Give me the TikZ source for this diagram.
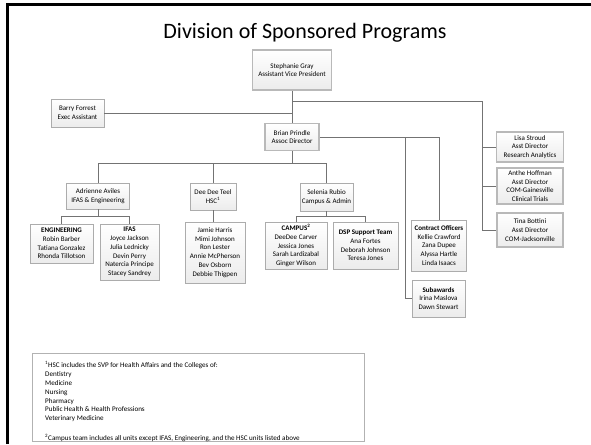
\documentclass[tikz,border=0pt]{standalone}
\usepackage{fontspec}
\setmainfont{Carlito}

\tikzset{
  box/.style={draw=gray!65, line width=0.8pt, top color=white, bottom color=gray!15,
    align=center, inner sep=1pt, font=\fontsize{7}{8.8}\selectfont},
  headbox/.style={box, line width=1.5pt, draw=gray!55},
  link/.style={draw=gray!90!black, line width=0.8pt},
  note/.style={anchor=north west, align=left, inner sep=0pt, font=\fontsize{7.1}{8.9}\selectfont}
}

\begin{document}
\begin{tikzpicture}[x=1pt,y=-1pt]
            \useasboundingbox (0,0) rectangle (591,444);
            \draw[line width=2.5pt] (7.5,444) -- (7.5,4.5) -- (591,4.5);

            \node (T) at (305,33) {\fontsize{22}{26}\selectfont Division of Sponsored Programs};

            \node[headbox, minimum width=79pt, minimum height=40pt] (SG) at (292,70) {Stephanie Gray\\Assistant Vice President};
            \node[box, minimum width=53pt, minimum height=28pt] (BF) at (77.5,113) {Barry Forrest\\Exec Assistant};
            \node[headbox, minimum width=54pt, minimum height=27pt] (BP) at (292,137) {Brian Prindle\\Assoc Director};

            \node[headbox, minimum width=67pt, minimum height=30pt] (LS) at (530,147) {Lisa Stroud\\Asst Director\\Research Analytics};
            \node[headbox, minimum width=66pt, minimum height=36pt] (AH) at (530,186) {Anthe Hoffman\\Asst Director\\COM-Gainesville\\Clinical Trials};
            \node[headbox, minimum width=66pt, minimum height=34pt] (TB) at (530,230) {Tina Bottini\\Asst Director\\COM-Jacksonville};

            \node[box, minimum width=63pt, minimum height=26pt] (AA) at (98,196) {Adrienne Aviles\\IFAS \& Engineering};
            \node[box, minimum width=46pt, minimum height=27pt] (DT) at (213,196.5) {Dee Dee Teel\\HSC\textsuperscript{1}};
            \node[box, minimum width=53pt, minimum height=28pt] (SR) at (326.5,197) {Selenia Rubio\\Campus \& Admin};

            \node[box, minimum width=63pt, minimum height=39pt] (EN) at (61.5,243.5) {\textbf{ENGINEERING}\\Robin Barber\\Tatiana Gonzalez\\Rhonda Tillotson};
            \node[box, minimum width=59pt, minimum height=56pt] (IF) at (129.5,252) {\textbf{IFAS}\\Joyce Jackson\\Julia Lednicky\\Devin Perry\\Natercia Principe\\Stacey Sandrey};
            \node[box, minimum width=60pt, minimum height=61pt] (HS) at (215,252.5) {Jamie Harris\\Mimi Johnson\\Ron Lester\\Annie McPherson\\Bev Osborn\\Debbie Thigpen};
            \node[box, minimum width=62pt, minimum height=47pt] (CA) at (296,245.5) {\textbf{CAMPUS\textsuperscript{2}}\\DeeDee Carver\\Jessica Jones\\Sarah Lardizabal\\Ginger Wilson};
            \node[box, minimum width=65pt, minimum height=47pt] (DS) at (365.5,245.5) {\textbf{DSP Support Team}\\Ana Fortes\\Deborah Johnson\\Teresa Jones};
            \node[box, minimum width=55pt, minimum height=51pt] (CO) at (439,245.5) {\textbf{Contract Officers}\\Kellie Crawford\\Zana Dupee\\Alyssa Hartle\\Linda Isaacs};
            \node[box, minimum width=53pt, minimum height=37pt] (SA) at (438.5,298.5) {\textbf{Subawards}\\Irina Maslova\\Dawn Stewart};

            \coordinate (R1) at (292,101);
            \coordinate (R2) at (482,101);
            \coordinate (R3) at (482,230);
            \coordinate (M) at (292,163);
            \coordinate (A1) at (98,216);
            \coordinate (S1) at (326.5,216.5);
            \coordinate (B1) at (439,137);
            \coordinate (B2) at (405,137);

            \draw[link] (SG) -- (BP);
            \draw[link] (BF) -- (BF -| SG);
            \draw[link] (R1) -- (R2) -- (R3) -- (TB);
            \draw[link] (R2 |- LS) -- (LS);
            \draw[link] (R2 |- AH) -- (AH);

            \draw[link] (BP) -- (M);
            \draw[link] (AA) -- (AA |- M) -- (SR |- M) -- (SR);
            \draw[link] (DT |- M) -- (DT);
            \draw[link] (DT) -- (DT |- HS.north);

            \draw[link] (AA) -- (A1);
            \draw[link] (EN) -- (EN |- A1) -- (IF |- A1) -- (IF);
            \draw[link] (SR) -- (S1);
            \draw[link] (CA) -- (CA |- S1) -- (DS |- S1) -- (DS);

            \draw[link] (BP) -- (B1) -- (CO);
            \draw[link] (B2) -- (B2 |- SA) -- (SA);

            \node[draw=gray!60, line width=0.6pt, minimum width=332pt, minimum height=88pt] (FN) at (198,397) {};
            \node[note] (N1) at (45,361) {\textsuperscript{1}HSC includes the SVP for Health Affairs and the Colleges of:\\Dentistry\\Medicine\\Nursing\\Pharmacy\\Public Health \& Health Professions\\Veterinary Medicine};
            \node[note] (N2) at (45,434.5) {\textsuperscript{2}Campus team includes all units except IFAS, Engineering, and the HSC units listed above};
\end{tikzpicture}
\end{document}
